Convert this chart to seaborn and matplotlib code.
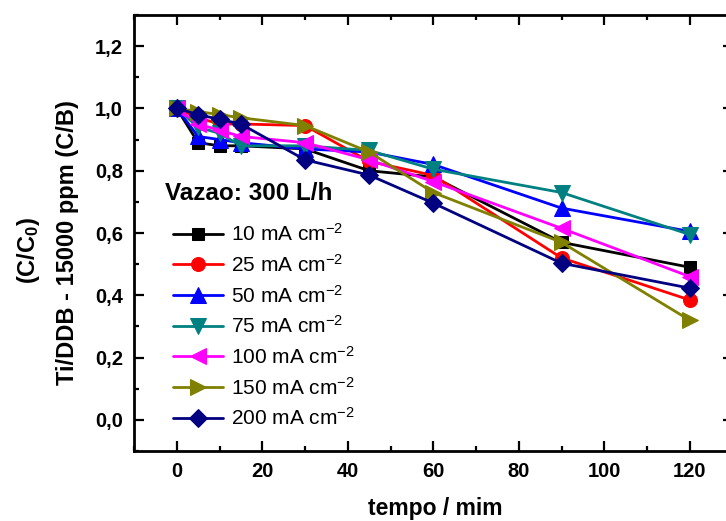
import matplotlib
matplotlib.use("Agg")
import matplotlib.pyplot as plt
import seaborn as sns
import pandas as pd
from matplotlib.ticker import MultipleLocator, FuncFormatter

tempo = [0, 5, 10, 15, 30, 45, 60, 90, 120]
labels = ["10", "25", "50", "75", "100", "150", "200"]
s10 = [1.0, 0.89, 0.88, 0.88, 0.87, 0.80, 0.78, 0.57, 0.49]
s25 = [1.0, 0.97, 0.95, 0.95, 0.945, 0.83, 0.785, 0.52, 0.385]
s50 = [1.0, 0.91, 0.90, 0.89, 0.87, 0.86, 0.82, 0.68, 0.605]
s75 = [1.0, 0.94, 0.92, 0.88, 0.88, 0.865, 0.805, 0.73, 0.595]
s100 = [1.0, 0.95, 0.93, 0.91, 0.89, 0.835, 0.765, 0.615, 0.46]
s150 = [1.0, 0.99, 0.98, 0.97, 0.945, 0.86, 0.73, 0.57, 0.32]
s200 = [1.0, 0.98, 0.965, 0.95, 0.835, 0.786, 0.696, 0.503, 0.423]
series = [s10, s25, s50, s75, s100, s150, s200]
colors = ["#000000", "#ff0000", "#0000ff", "#008080", "#ff00ff", "#808000", "#000080"]
markers = ["s", "o", "^", "v", "<", ">", "D"]
msizes = [9, 10, 11, 11, 11, 11, 9]

sns.set_theme(style="ticks")
plt.rcParams['font.family'] = ['Liberation Sans', 'DejaVu Sans']
plt.rcParams['mathtext.fontset'] = 'custom'
plt.rcParams['mathtext.rm'] = 'Liberation Sans'
plt.rcParams['mathtext.bf'] = 'Liberation Sans:bold'
plt.rcParams['mathtext.it'] = 'Liberation Sans:italic'
for k in ['text.color', 'axes.labelcolor', 'xtick.color', 'ytick.color', 'axes.edgecolor']:
    plt.rcParams[k] = 'black'

fig = plt.figure(figsize=(7.26, 5.21), dpi=100)
ax = fig.add_axes([134 / 726, 1 - 451 / 521, 598.5 / 726, 436 / 521])

for lab, vals, c, m, ms in zip(labels, series, colors, markers, msizes):
    df = pd.DataFrame({"tempo": tempo, "v": vals})
    sns.lineplot(data=df, x="tempo", y="v", ax=ax, color=c, marker=m,
                 markersize=ms, markeredgecolor=c, linewidth=2.0,
                 label=lab + r" mA cm$^{\mathregular{-2}}$", clip_on=False)

ax.set_xlim(-10, 130)
ax.set_ylim(-0.1, 1.3)
ax.xaxis.set_major_locator(MultipleLocator(20))
ax.xaxis.set_minor_locator(MultipleLocator(10))
ax.yaxis.set_major_locator(MultipleLocator(0.2))
ax.yaxis.set_minor_locator(MultipleLocator(0.1))
ax.yaxis.set_major_formatter(FuncFormatter(lambda v, p: f"{v:.1f}".replace(".", ",")))
ax.tick_params(which="both", direction="in", top=True, right=True, width=1.6)
ax.tick_params(which="major", length=7, labelsize=14.5, pad=8)
ax.tick_params(which="minor", length=3.5)
for lbl in ax.get_xticklabels() + ax.get_yticklabels():
    lbl.set_fontweight("bold")
for sp in ax.spines.values():
    sp.set_linewidth(2.0)

ax.set_xlabel("")
ax.set_ylabel("")
fig.text(435 / 726, 1 - 508 / 521, "tempo / mim", fontsize=16.5,
         fontweight="bold", ha="center", va="center")
fig.text(28 / 726, 1 - 250 / 521, r"(C/C$_\mathbf{0}$)", rotation=90, fontsize=17,
         fontweight="bold", ha="center", va="center")
fig.text(68 / 726, 1 - 243 / 521, "Ti/DDB - 15000 ppm (C/B)", rotation=90,
         fontsize=17, fontweight="bold", ha="center", va="center")

fig.text(165 / 726, 1 - 193 / 521, "Vazao: 300 L/h", fontsize=17.5,
         fontweight="bold", ha="left", va="center")
leg = ax.legend(loc="upper left", bbox_to_anchor=(0.04, 0.556), frameon=False,
                fontsize=15, handlelength=2.4,
                labelspacing=0.42, handletextpad=0.4, borderpad=0.2)

fig.savefig("out.png", dpi=100)
